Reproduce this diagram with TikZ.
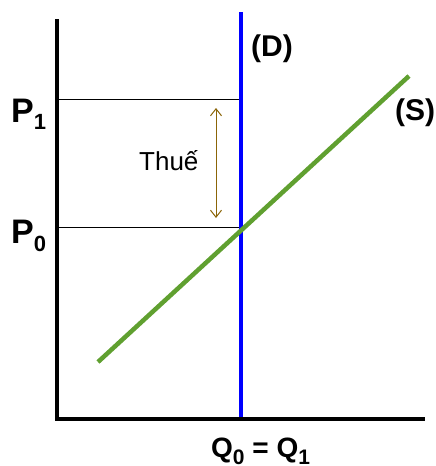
\documentclass[tikz,border=0pt]{standalone}
\usepackage{fontspec}
\setmainfont{Liberation Sans}
\usetikzlibrary{arrows.meta}
\definecolor{supgreen}{RGB}{96,160,48}
\definecolor{taxbrown}{RGB}{139,101,8}
\begin{document}
\begin{tikzpicture}[x=1pt,y=-1pt,
  axisline/.style={line width=3.5pt},
  priceline/.style={line width=0.9pt},
  lbl/.style={inner sep=0pt,anchor=base west,font=\bfseries\fontsize{34}{38}\selectfont},
  curvelbl/.style={inner sep=0pt,anchor=base west,font=\bfseries\fontsize{30}{34}\selectfont},
  qlbl/.style={inner sep=0pt,anchor=base west,font=\bfseries\fontsize{28}{32}\selectfont},
  taxarrow/.style={draw=taxbrown,line width=1pt,{Straight Barb[length=7pt,width=11pt]}-{Straight Barb[length=7pt,width=11pt]}}
]
\useasboundingbox (0,0) rectangle (436,466);
\coordinate (ytop) at (57,19);
\coordinate (origin) at (57,419);
\coordinate (xend) at (425,419);
\coordinate (p1a) at (57,99);
\coordinate (p1b) at (241,99);
\coordinate (p0a) at (57,227);
\coordinate (p0b) at (241,227);
\coordinate (dtop) at (241,12);
\coordinate (dbot) at (241,419);
\coordinate (slo) at (98,362);
\coordinate (shi) at (409,76);
\coordinate (ta) at (216,108);
\coordinate (tb) at (216,218);
% price lines
\draw[priceline] (p1a) -- (p1b);
\draw[priceline] (p0a) -- (p0b);
% demand
\draw[blue,line width=4pt] (dtop) -- (dbot);
% supply
\draw[supgreen,line width=4.5pt] (slo) -- (shi);
% axes
\draw[axisline] (ytop) -- (origin) -- (xend);
% tax arrow
\draw[taxarrow] (ta) -- (tb);
% labels
\node[lbl] (P1) at (11,122) {P\raisebox{-7pt}{\fontsize{22}{24}\selectfont 1}};
\node[lbl] (P0) at (11,243) {P\raisebox{-8pt}{\fontsize{22}{24}\selectfont 0}};
\node[curvelbl] (D) at (251,56) {(D)};
\node[curvelbl] (S) at (395,120) {(S)};
\node[inner sep=0pt,anchor=base west,font=\fontsize{26}{30}\selectfont] (tax) at (139,170) {Thuế};
\node[qlbl] (Q) at (211,457) {Q\raisebox{-7.5pt}{\fontsize{21}{22}\selectfont 0} = Q\raisebox{-7.5pt}{\fontsize{21}{22}\selectfont 1}};
\end{tikzpicture}
\end{document}
